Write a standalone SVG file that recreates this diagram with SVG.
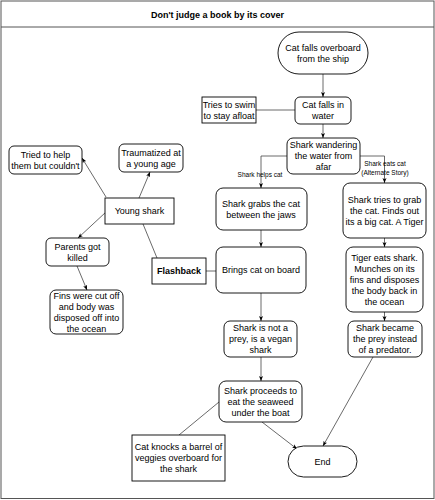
<svg xmlns="http://www.w3.org/2000/svg" width="435" height="500" viewBox="0 0 435 500">
<style>
text{font-family:"Liberation Sans",Arial,sans-serif;font-size:9px;fill:#000;text-anchor:middle}
.title{font-weight:bold}
.b{font-weight:bold}
.lbl{font-size:6.5px}
.n{fill:#fff;stroke:#000;stroke-width:0.9}
.c{fill:none;stroke:#444;stroke-width:0.8}
.frame{fill:#fff;stroke:#555;stroke-width:1}
</style>
<defs>
<marker id="ah" viewBox="0 0 10 10" refX="10" refY="5" markerWidth="5" markerHeight="5" orient="auto" markerUnits="userSpaceOnUse">
<path d="M0,1 L10,5 L0,9 L2.5,5 z" fill="#000"/>
</marker>
</defs>
<rect class="frame" x="1" y="1" width="433" height="497.5"/>
<line x1="1" y1="27" x2="434" y2="27" stroke="#555" stroke-width="1"/>
<text class="title" x="217.5" y="18">Don't judge a book by its cover</text>

<g id="connectors">
<path class="c" d="M323,74 V97" marker-end="url(#ah)"/>
<path class="c" d="M256,110 H295"/>
<path class="c" d="M323,124 V138" marker-end="url(#ah)"/>
<path class="c" d="M287,156 H261 V188" marker-end="url(#ah)"/>
<path class="c" d="M360,156 H384.5 V183" marker-end="url(#ah)"/>
<path class="c" d="M261,230 V247" marker-end="url(#ah)"/>
<path class="c" d="M261,293 V321" marker-end="url(#ah)"/>
<path class="c" d="M261,357 V381" marker-end="url(#ah)"/>
<path class="c" d="M262,422 L297,449" marker-end="url(#ah)"/>
<path class="c" d="M373,357 L323,446" marker-end="url(#ah)"/>
<path class="c" d="M384.5,238 V247" marker-end="url(#ah)"/>
<path class="c" d="M384.5,312 V321" marker-end="url(#ah)"/>
<path class="c" d="M206,271 H216"/>
<path class="c" d="M143,224 L157,258"/>
<path class="c" d="M179,435 L219,402"/>
<path class="c" d="M106,197 L82,158" marker-end="url(#ah)"/>
<path class="c" d="M139,198 L150,172" marker-end="url(#ah)"/>
<path class="c" d="M106,212 L78,238" marker-end="url(#ah)"/>
<path class="c" d="M77,266 L87,290" marker-end="url(#ah)"/>
<text class="lbl" x="260" y="177">Shark helps cat</text>
<text class="lbl" x="385" y="165.5">Shark eats cat</text>
<text class="lbl" x="385" y="175">(Alternate Story)</text>
</g>

<g id="start">
<rect class="n" x="278" y="32" width="90" height="42" rx="21"/>
<text x="323" y="50.7">Cat falls overboard</text>
<text x="323" y="61.7">from the ship</text>
</g>
<g id="cat-falls">
<rect class="n" x="295" y="97" width="56" height="27" rx="5"/>
<text x="323" y="108.2">Cat falls in</text>
<text x="323" y="119.2">water</text>
</g>
<g id="tries-swim">
<rect class="n" x="202" y="97" width="54" height="26" rx="0"/>
<text x="229" y="107.7">Tries to swim</text>
<text x="229" y="118.7">to stay afloat</text>
</g>
<g id="wandering">
<rect class="n" x="287" y="138" width="73" height="36" rx="6"/>
<text x="323.5" y="148.2">Shark wandering</text>
<text x="323.5" y="159.2">the water from</text>
<text x="323.5" y="170.2">afar</text>
</g>
<g id="grabs">
<rect class="n" x="216" y="188" width="91" height="42" rx="7"/>
<text x="261" y="206.7">Shark grabs the cat</text>
<text x="261" y="217.7">between the jaws</text>
</g>
<g id="tries-grab">
<rect class="n" x="343" y="183" width="83" height="55" rx="7"/>
<text x="384.5" y="202.7">Shark tries to grab</text>
<text x="384.5" y="213.7">the cat. Finds out</text>
<text x="384.5" y="224.7">its a big cat. A Tiger</text>
</g>
<g id="brings">
<rect class="n" x="216" y="247" width="90" height="46" rx="7"/>
<text x="261" y="273.2">Brings cat on board</text>
</g>
<g id="flashback">
<rect class="n" x="152" y="258" width="54" height="26" rx="0"/>
<text class="b" x="179" y="274.2">Flashback</text>
</g>
<g id="not-prey">
<rect class="n" x="224" y="321" width="73" height="36" rx="6"/>
<text x="260.5" y="331.2">Shark is not a</text>
<text x="260.5" y="342.2">prey, is a vegan</text>
<text x="260.5" y="353.2">shark</text>
</g>
<g id="proceeds">
<rect class="n" x="219" y="381" width="83" height="41" rx="7"/>
<text x="260.5" y="393.7">Shark proceeds to</text>
<text x="260.5" y="404.7">eat the seaweed</text>
<text x="260.5" y="415.7">under the boat</text>
</g>
<g id="tiger">
<rect class="n" x="346" y="247" width="77" height="65" rx="7"/>
<text x="384.5" y="260.7">Tiger eats shark.</text>
<text x="384.5" y="271.7">Munches on its</text>
<text x="384.5" y="282.7">fins and disposes</text>
<text x="384.5" y="293.7">the body back in</text>
<text x="384.5" y="304.7">the ocean</text>
</g>
<g id="became">
<rect class="n" x="348" y="321" width="74" height="36" rx="6"/>
<text x="385" y="331.2">Shark became</text>
<text x="385" y="342.2">the prey instead</text>
<text x="385" y="353.2">of a predator.</text>
</g>
<g id="end">
<rect class="n" x="288" y="446" width="69" height="31" rx="15.5"/>
<text x="322.5" y="464.7">End</text>
</g>
<g id="cat-knocks">
<rect class="n" x="132" y="435" width="93" height="46" rx="0"/>
<text x="178.5" y="450.2">Cat knocks a barrel of</text>
<text x="178.5" y="461.2">veggies overboard for</text>
<text x="178.5" y="472.2">the shark</text>
</g>
<g id="young-shark">
<rect class="n" x="105" y="198" width="69" height="26" rx="0"/>
<text x="139.5" y="214.2">Young shark</text>
</g>
<g id="tried-help">
<rect class="n" x="9" y="146" width="73" height="28" rx="5"/>
<text x="45.5" y="157.7">Tried to help</text>
<text x="45.5" y="168.7">them but couldn't</text>
</g>
<g id="traumatized">
<rect class="n" x="119" y="144" width="64" height="28" rx="5"/>
<text x="151" y="155.7">Traumatized at</text>
<text x="151" y="166.7">a young age</text>
</g>
<g id="parents">
<rect class="n" x="46" y="238" width="63" height="28" rx="5"/>
<text x="77.5" y="249.7">Parents got</text>
<text x="77.5" y="260.7">killed</text>
</g>
<g id="fins">
<rect class="n" x="50" y="290" width="73" height="44" rx="6"/>
<text x="86.5" y="298.7">Fins were cut off</text>
<text x="86.5" y="309.7">and body was</text>
<text x="86.5" y="320.7">disposed off into</text>
<text x="86.5" y="331.7">the ocean</text>
</g>
</svg>
